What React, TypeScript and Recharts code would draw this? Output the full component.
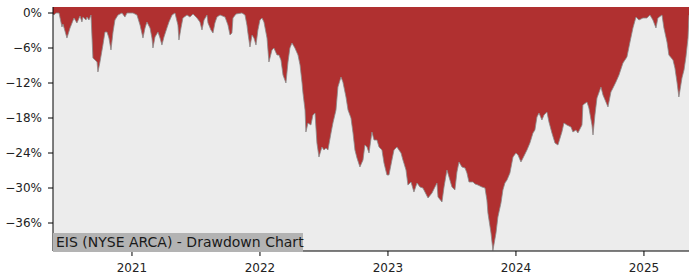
import { AreaChart, Area, XAxis, YAxis, CartesianGrid } from "recharts"

// decimal years
const dates = [
  2020.383, 2020.391, 2020.406, 2020.43, 2020.453, 2020.461, 2020.492, 2020.516, 2020.547, 2020.57,
  2020.594, 2020.609, 2020.617, 2020.641, 2020.648, 2020.664, 2020.68, 2020.688, 2020.695, 2020.711,
  2020.727, 2020.734, 2020.75, 2020.773, 2020.789, 2020.805, 2020.82, 2020.836, 2020.852, 2020.867,
  2020.891, 2020.922, 2020.945, 2020.961, 2021.008, 2021.039, 2021.063, 2021.086, 2021.102, 2021.117,
  2021.141, 2021.156, 2021.164, 2021.18, 2021.203, 2021.219, 2021.234, 2021.25, 2021.273, 2021.289,
  2021.313, 2021.336, 2021.359, 2021.367, 2021.383, 2021.398, 2021.43, 2021.453, 2021.477, 2021.508,
  2021.531, 2021.547, 2021.563, 2021.586, 2021.594, 2021.617, 2021.633, 2021.648, 2021.664, 2021.688,
  2021.727, 2021.75, 2021.766, 2021.781, 2021.789, 2021.813, 2021.859, 2021.883, 2021.898, 2021.906,
  2021.922, 2021.938, 2021.953, 2021.969, 2021.984, 2022.0, 2022.016, 2022.031, 2022.055, 2022.07,
  2022.094, 2022.109, 2022.133, 2022.148, 2022.164, 2022.18, 2022.203, 2022.219, 2022.234, 2022.25,
  2022.273, 2022.297, 2022.313, 2022.328, 2022.336, 2022.352, 2022.359, 2022.375, 2022.398, 2022.414,
  2022.43, 2022.445, 2022.461, 2022.484, 2022.5, 2022.516, 2022.531, 2022.555, 2022.57, 2022.594,
  2022.609, 2022.633, 2022.648, 2022.672, 2022.688, 2022.711, 2022.727, 2022.742, 2022.758, 2022.781,
  2022.805, 2022.82, 2022.836, 2022.852, 2022.875, 2022.891, 2022.914, 2022.93, 2022.953, 2022.969,
  2022.992, 2023.008, 2023.031, 2023.047, 2023.07, 2023.086, 2023.102, 2023.117, 2023.141, 2023.156,
  2023.18, 2023.203, 2023.227, 2023.25, 2023.273, 2023.313, 2023.344, 2023.367, 2023.383, 2023.391,
  2023.422, 2023.438, 2023.461, 2023.477, 2023.5, 2023.523, 2023.539, 2023.555, 2023.578, 2023.602,
  2023.617, 2023.633, 2023.664, 2023.68, 2023.703, 2023.734, 2023.758, 2023.773, 2023.781, 2023.805,
  2023.82, 2023.844, 2023.859, 2023.883, 2023.898, 2023.914, 2023.93, 2023.953, 2023.977, 2024.0,
  2024.016, 2024.039, 2024.055, 2024.086, 2024.109, 2024.133, 2024.148, 2024.164, 2024.18, 2024.203,
  2024.219, 2024.242, 2024.258, 2024.281, 2024.305, 2024.328, 2024.359, 2024.375, 2024.398, 2024.43,
  2024.445, 2024.469, 2024.484, 2024.516, 2024.523, 2024.555, 2024.57, 2024.594, 2024.602, 2024.617,
  2024.633, 2024.664, 2024.68, 2024.703, 2024.719, 2024.742, 2024.758, 2024.781, 2024.805, 2024.836,
  2024.867, 2024.891, 2024.914, 2024.938, 2024.961, 2024.992, 2025.023, 2025.047, 2025.07, 2025.094,
  2025.109, 2025.141, 2025.156, 2025.18, 2025.195, 2025.227, 2025.242, 2025.258, 2025.273, 2025.297,
  2025.313, 2025.328, 2025.344, 2025.352,
]

// drawdown in percent
const drawdown = [
  -0.17, -0.34, 0, 0, -2.4, -1.89, -4.29, -2.57, -0.86, -1.71,
  -0.51, -1.54, -0.69, -1.2, -0.69, -1.2, -0.34, -4.29, -7.71, -8.06,
  -8.4, -10.11, -8.4, -5.49, -3.26, -3.26, -4.29, -6.34, -3.26, -1.2,
  -0.34, 0, -0.69, 0, 0, -0.34, -2.06, -4.29, -2.57, -1.54,
  -2.57, -4.29, -6.0, -4.11, -3.26, -4.29, -5.49, -4.11, -2.57, -1.54,
  -0.34, 0, -2.06, -4.63, -2.57, -0.86, -0.34, -0.69, -0.17, -0.86,
  -1.54, -2.91, -1.2, -0.34, -1.71, -2.91, -3.43, -1.71, -0.69, -0.34,
  -0.69, -2.06, -3.77, -3.43, -0.86, -0.17, 0, -0.34, -2.06, -3.43,
  -5.83, -3.77, -4.29, -5.49, -2.91, -1.2, -0.86, -1.54, -4.29, -8.4,
  -6.34, -6.0, -7.2, -7.2, -8.06, -10.63, -12.0, -8.4, -6.0, -5.14,
  -6.0, -7.2, -8.91, -11.83, -13.71, -16.63, -20.4, -18.86, -19.2, -17.49,
  -17.14, -22.29, -24.69, -22.97, -23.49, -23.14, -23.49, -20.57, -18.86, -16.63,
  -12.69, -10.97, -11.83, -14.4, -16.63, -18.0, -20.57, -23.49, -24.86, -26.4,
  -25.2, -22.63, -22.97, -24.0, -20.4, -21.77, -21.77, -22.97, -23.49, -25.71,
  -27.77, -27.77, -25.2, -23.49, -22.97, -23.49, -24.0, -25.2, -26.91, -29.49,
  -28.97, -30.69, -29.14, -29.83, -30.0, -31.71, -30.86, -29.83, -29.14, -31.54,
  -32.4, -29.83, -26.91, -28.11, -29.83, -30.34, -27.26, -25.54, -26.4, -26.57,
  -27.43, -28.97, -28.97, -29.31, -29.49, -29.83, -30.0, -32.06, -34.29, -37.71,
  -40.7, -37.71, -34.97, -32.57, -30.34, -29.14, -28.63, -27.43, -24.69, -24.0,
  -24.34, -25.54, -24.86, -23.49, -22.29, -20.57, -20.06, -17.83, -17.14, -18.34,
  -17.49, -16.97, -18.69, -20.57, -22.29, -22.63, -20.4, -18.86, -19.2, -19.54,
  -20.4, -20.06, -20.57, -19.2, -15.77, -15.26, -16.29, -19.2, -20.91, -17.49,
  -14.57, -12.69, -14.06, -15.26, -16.11, -13.54, -12.86, -11.83, -10.63, -8.57,
  -7.54, -4.97, -2.57, -0.69, -1.2, -0.86, -0.86, -0.34, -1.2, -2.57,
  -0.86, -0.34, -2.57, -4.97, -7.2, -8.06, -9.43, -11.83, -14.4, -11.14,
  -9.77, -7.54, -4.29, -0.34,
]

const yearTicks = [2021, 2022, 2023, 2024, 2025]
const pctTicks = [0, -6, -12, -18, -24, -30, -36]
const title = "EIS (NYSE ARCA) - Drawdown Chart"

const data = dates.map((t, i) => ({ t, dd: drawdown[i] }))

const font = "'DejaVu Sans', sans-serif"
const tickStyle = { fontSize: 12, fill: "#222", fontFamily: font }

const fmtPct = (v: number) => (v < 0 ? `\u2212${Math.abs(v)}%` : `${v}%`)

export default function App() {
  return (
    <div style={{ position: "absolute", left: 0, top: 0, width: 700, height: 280, background: "#fff" }}>
      <AreaChart width={700} height={280} data={data} margin={{ top: 7, right: 11, bottom: 0, left: 0 }}>
        <CartesianGrid horizontal={false} vertical={false} fill="#ececec" />
        <XAxis
          dataKey="t"
          type="number"
          domain={[2020.383, 2025.352]}
          allowDataOverflow
          ticks={yearTicks}
          tickFormatter={(v) => String(v)}
          height={29}
          tickSize={5}
          tickMargin={7}
          tick={tickStyle}
          stroke="#000"
        />
        <XAxis xAxisId="top" orientation="top" type="number" domain={[2020.383, 2025.352]} tick={false} tickLine={false} height={0} stroke="#000" />
        <YAxis
          type="number"
          domain={[-40.8, 1.03]}
          allowDataOverflow
          ticks={pctTicks}
          tickFormatter={fmtPct}
          width={53}
          tickSize={5}
          tickMargin={6}
          tick={tickStyle}
          stroke="#000"
        />
        <YAxis yAxisId="right" orientation="right" type="number" domain={[-40.8, 1.03]} tick={false} tickLine={false} width={0} stroke="#000" />
        <Area
          type="linear"
          dataKey="dd"
          baseValue="dataMax"
          fill="#b03030"
          fillOpacity={1}
          stroke="#8a8a8a"
          strokeWidth={0.8}
          isAnimationActive={false}
        />
      </AreaChart>
      <div
        style={{
          position: "absolute",
          left: 53,
          top: 233,
          width: 250,
          height: 19,
          lineHeight: "19px",
          background: "#b3b3b3",
          color: "#1a1a1a",
          fontFamily: font,
          fontSize: 14,
          paddingLeft: 3,
          boxSizing: "border-box",
          whiteSpace: "nowrap",
        }}
      >
        {title}
      </div>
    </div>
  )
}
